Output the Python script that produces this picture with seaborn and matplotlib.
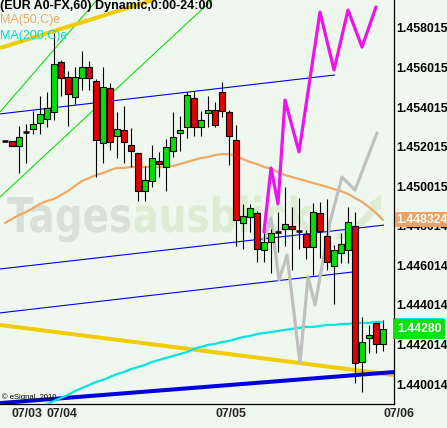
import numpy as np
import pandas as pd
import matplotlib
matplotlib.use("Agg")
import matplotlib.pyplot as plt
import seaborn as sns
from matplotlib.textpath import TextPath
from matplotlib.patches import PathPatch, FancyArrowPatch
from matplotlib.font_manager import FontProperties
from matplotlib.transforms import Affine2D, blended_transform_factory

BG = "#EFF8EF"
sns.set_style("white", {"axes.facecolor": BG, "figure.facecolor": BG})
plt.rcParams["font.family"] = ["Liberation Sans", "DejaVu Sans"]

# ---------------- data (hourly EUR/USD candles) ----------------
opens = [1.45230, 1.45230, 1.45205, 1.45276, 1.45291, 1.45321, 1.45341, 1.45377, 1.45630, 1.45554,
         1.45453, 1.45549, 1.45604, 1.45534, 1.45220, 1.45498, 1.45255, 1.45286, 1.45210, 1.45169,
         1.44977, 1.45028, 1.45129, 1.45099, 1.45180, 1.45271, 1.45301, 1.45448, 1.45301, 1.45372,
         1.45387, 1.45478, 1.45377, 1.45235, 1.44816, 1.44846, 1.44866, 1.44679, 1.44719, 1.44770,
         1.44785, 1.44800, 1.44775, 1.44760, 1.44694, 1.44866, 1.44750, 1.44598, 1.44664, 1.44679,
         1.44800, 1.44113, 1.44234, 1.44310, 1.44204]
highs = [1.45235, 1.45230, 1.45306, 1.45316, 1.45382, 1.45458, 1.45478, 1.45776, 1.45640, 1.45584,
         1.45604, 1.45685, 1.45635, 1.45544, 1.45604, 1.45523, 1.45377, 1.45407, 1.45296, 1.45169,
         1.45104, 1.45210, 1.45175, 1.45240, 1.45377, 1.45357, 1.45478, 1.45483, 1.45382, 1.45458,
         1.45427, 1.45528, 1.45387, 1.45311, 1.44912, 1.44912, 1.44876, 1.44765, 1.44785, 1.44871,
         1.44998, 1.44896, 1.44942, 1.44780, 1.44917, 1.44922, 1.44937, 1.44704, 1.44765, 1.44896,
         1.44871, 1.44340, 1.44300, 1.44310, 1.44325]
lows = [1.45225, 1.45205, 1.45068, 1.45119, 1.45266, 1.45266, 1.45301, 1.45336, 1.45458, 1.45306,
        1.45417, 1.45488, 1.45488, 1.45048, 1.45119, 1.45185, 1.45144, 1.45119, 1.45099, 1.44927,
        1.44927, 1.44998, 1.45048, 1.44977, 1.45149, 1.45180, 1.45245, 1.45255, 1.45255, 1.45301,
        1.45301, 1.45351, 1.45109, 1.44699, 1.44684, 1.44770, 1.44618, 1.44618, 1.44563, 1.44669,
        1.44699, 1.44578, 1.44684, 1.44634, 1.44553, 1.44639, 1.44578, 1.44406, 1.44613, 1.44613,
        1.44007, 1.43961, 1.44158, 1.44158, 1.44168]
closes = [1.45230, 1.45205, 1.45250, 1.45276, 1.45316, 1.45367, 1.45397, 1.45619, 1.45549, 1.45468,
          1.45554, 1.45604, 1.45549, 1.45235, 1.45503, 1.45225, 1.45291, 1.45225, 1.45180, 1.44977,
          1.45033, 1.45144, 1.45114, 1.45200, 1.45250, 1.45286, 1.45463, 1.45301, 1.45336, 1.45387,
          1.45311, 1.45382, 1.45255, 1.44831, 1.44851, 1.44891, 1.44684, 1.44719, 1.44765, 1.44770,
          1.44810, 1.44785, 1.44775, 1.44694, 1.44871, 1.44775, 1.44618, 1.44679, 1.44709, 1.44821,
          1.44108, 1.44214, 1.44249, 1.44204, 1.44280]

ma50 = [1.44816, 1.44836, 1.44856, 1.44871, 1.44891, 1.44912, 1.44927, 1.44937, 1.44957, 1.44977,
        1.45003, 1.45028, 1.45043, 1.45058, 1.45068, 1.45083, 1.45094, 1.45094, 1.45099, 1.45099,
        1.45099, 1.45099, 1.45099, 1.45099, 1.45104, 1.45114, 1.45124, 1.45134, 1.45144, 1.45149,
        1.45159, 1.45164, 1.45164, 1.45154, 1.45139, 1.45124, 1.45114, 1.45099, 1.45089, 1.45073,
        1.45058, 1.45048, 1.45038, 1.45028, 1.45018, 1.45008, 1.44998, 1.44987, 1.44977, 1.44962,
        1.44942, 1.44922, 1.44896, 1.44866, 1.44831]
ma200 = [1.43794, 1.43814, 1.43835, 1.43855, 1.43870, 1.43885, 1.43900, 1.43916, 1.43931, 1.43946,
         1.43966, 1.43981, 1.43996, 1.44012, 1.44022, 1.44037, 1.44052, 1.44062, 1.44077, 1.44087,
         1.44098, 1.44113, 1.44123, 1.44133, 1.44143, 1.44153, 1.44163, 1.44179, 1.44189, 1.44199,
         1.44204, 1.44214, 1.44219, 1.44229, 1.44239, 1.44244, 1.44254, 1.44259, 1.44264, 1.44270,
         1.44275, 1.44280, 1.44285, 1.44290, 1.44290, 1.44295, 1.44300, 1.44300, 1.44305, 1.44305,
         1.44310, 1.44310, 1.44310, 1.44315, 1.44315]
ma50_last_label = 1.448324
ma200_last_label = 1.44283

# projection paths (magenta / gray)
proj_up_x = [37, 38, 39, 40, 42, 45, 47, 49, 51, 53]
proj_up_y = [1.44770, 1.45094, 1.44912, 1.45437, 1.45175, 1.45882, 1.45589, 1.45892, 1.45705, 1.45908]
proj_dn_x = [37.0, 38.0, 39.14, 40.29, 42.14, 43.29, 44.29, 46.43, 48.14, 50.0, 53.14]
proj_dn_y = [1.44730, 1.44841, 1.44527, 1.44654, 1.44108, 1.44543, 1.44401, 1.44821, 1.45048, 1.44982, 1.45271]

# drawn trend lines (two end points each)
yellow_upper_x, yellow_upper_y = [-0.71, 21.14], [1.45700, 1.45943]
yellow_lower_x, yellow_lower_y = [-0.71, 55.57], [1.44300, 1.44047]
blue_thick_x, blue_thick_y = [-0.71, 55.57], [1.43905, 1.44062]
blue_upper_x, blue_upper_y = [-0.71, 47.14], [1.45367, 1.45564]
blue_mid_x, blue_mid_y = [-0.71, 54.14], [1.44583, 1.44805]
blue_low_x, blue_low_y = [-0.71, 49.71], [1.44361, 1.44568]
green_a_x, green_a_y = [-0.71, 13.14], [1.45377, 1.45943]
green_b_x, green_b_y = [-0.71, 29.57], [1.44947, 1.45943]

ytick_vals = [1.440014, 1.442014, 1.444014, 1.446014, 1.448014,
              1.450015, 1.452015, 1.454015, 1.456015, 1.458015]
ytick_labels = ["1.440014", "1.442014", "1.444014", "1.446014", "1.448014",
                "1.450015", "1.452015", "1.454015", "1.456015", "1.458015"]
xtick_pos = [1, 6, 30, 54]
xtick_labels = ["07/03", "07/04", "07/05", "07/06"]

# ---------------- figure ----------------
W, H = 447, 428
fig = plt.figure(figsize=(W / 100, H / 100), dpi=100)
ax = fig.add_axes([0, 24 / H, 394 / W, 404 / H])
ax.set_xlim(-0.714, 55.571)
ax.set_ylim(1.439004, 1.45943)

# watermark
fp = FontProperties(family="DejaVu Sans", weight="bold")
em_x, em_y = 48 * 0.81 / 394, 48 / 404
tx, ty = 7 / 394, 1 - 232 / 404
tp1 = TextPath((0, 0), "Tages", size=1, prop=fp)
tp2 = TextPath((0, 0), "ausblick", size=1, prop=fp)
adv = tp1.get_extents().x1 + 0.06
ax.add_patch(PathPatch(tp1, transform=Affine2D().scale(em_x, em_y).translate(tx, ty) + ax.transAxes,
                       fc="#D9E0D9", ec="none", zorder=0.5))
ax.add_patch(PathPatch(tp2, transform=Affine2D().scale(em_x, em_y).translate(tx + adv * em_x, ty) + ax.transAxes,
                       fc="#DCEDD3", ec="none", zorder=0.5))
ax.add_patch(FancyArrowPatch((333 / 394, 1 - 238 / 404), (382 / 394, 1 - 192 / 404), transform=ax.transAxes,
                             arrowstyle="simple,head_width=10,head_length=10,tail_width=5",
                             connectionstyle="arc3,rad=0.25", color="#DCEDD3", lw=0, zorder=0.5))

# trend lines
for (xs, ys, c, lw) in [(green_a_x, green_a_y, "#00E000", 0.75),
                        (green_b_x, green_b_y, "#00E000", 0.75),
                        (blue_upper_x, blue_upper_y, "#0000E8", 0.8),
                        (blue_mid_x, blue_mid_y, "#0000E8", 0.8),
                        (blue_low_x, blue_low_y, "#0000E8", 0.8),
                        (yellow_upper_x, yellow_upper_y, "#F0CC00", 2.9),
                        (yellow_lower_x, yellow_lower_y, "#F0CC00", 2.9),
                        (blue_thick_x, blue_thick_y, "#0000E0", 2.9)]:
    ax.plot(xs, ys, color=c, lw=lw, solid_capstyle="butt", zorder=2)

idx = np.arange(len(opens))
df = pd.DataFrame({"i": idx, "open": opens, "high": highs, "low": lows, "close": closes,
                   "ma50": ma50, "ma200": ma200})

sns.lineplot(data=df, x="i", y="ma200", color="#00E4E4", lw=1.6, ax=ax, zorder=3)
sns.lineplot(data=df, x="i", y="ma50", color="#F2A862", lw=1.6, ax=ax, zorder=3)

sns.lineplot(x=proj_dn_x, y=proj_dn_y, color="#C0C0C0", lw=2.3, sort=False, estimator=None, ax=ax, zorder=3.5)
sns.lineplot(x=proj_up_x, y=proj_up_y, color="#F010F0", lw=2.3, sort=False, estimator=None, ax=ax, zorder=3.6)

# candles
ax.vlines(df["i"], df["low"], df["high"], color="black", lw=0.8, zorder=4)
o = df["open"].values
c = df["close"].values
up = c > o
dn = c < o
dj = c == o
bw = 0.72
ax.bar(df["i"][up], (c - o)[up], bottom=o[up], width=bw, color="#00E000", edgecolor="black", lw=0.8, zorder=5)
ax.bar(df["i"][dn], (o - c)[dn], bottom=c[dn], width=bw, color="#E00000", edgecolor="black", lw=0.8, zorder=5)
ax.hlines(o[dj], df["i"][dj] - 0.4, df["i"][dj] + 0.4, color="black", lw=1.8, zorder=5)

# axes styling
for s in ["left", "top"]:
    ax.spines[s].set_visible(False)
for s in ["right", "bottom"]:
    ax.spines[s].set_color("black")
    ax.spines[s].set_linewidth(0.9)
ax.yaxis.tick_right()
ax.set_yticks(ytick_vals, ytick_labels)
ax.tick_params(axis="y", length=0, pad=1.5, labelsize=8.8, labelcolor="black")
for t in ax.get_yticklabels():
    t.set_fontweight("bold")
ax.set_xticks(xtick_pos, xtick_labels)
ax.tick_params(axis="x", direction="in", length=3, width=0.8, color="black", pad=3, labelsize=8.9)
for t in ax.get_xticklabels():
    t.set_fontweight("bold")
    t.set_ha("left")
ax.set_xlabel("")
ax.set_ylabel("")

# right price boxes
trans = blended_transform_factory(ax.transAxes, ax.transData)
ax.text(1.006, ma50_last_label, f"{ma50_last_label:.6f}", transform=trans, ha="left", va="center",
        color="white", fontsize=8.8, fontweight="bold", clip_on=False, zorder=10,
        bbox=dict(boxstyle="square,pad=0.15", fc="#F0A060", ec="none"))
ax.text(1.008, ma200_last_label + 0.00012, f"{ma200_last_label:.5f}", transform=trans, ha="left", va="center",
        color="white", fontsize=8.8, fontweight="bold", clip_on=False, zorder=10,
        bbox=dict(boxstyle="square,pad=0.15", fc="#00E8E8", ec="none"))
ax.text(1.008, closes[-1], f"{closes[-1]:.5f}", transform=trans, ha="left", va="center",
        color="white", fontsize=8.8, fontweight="bold", clip_on=False, zorder=11,
        bbox=dict(boxstyle="square,pad=0.3", fc="#10E010", ec="none"))

# legend texts
fig.text(0.0, 1.0, "(EUR A0-FX,60) Dynamic,0:00-24:00", ha="left", va="top",
         fontsize=9, fontweight="bold", color="black")
fig.text(0.0, 1 - 14.5 / H, "MA(50,C)e", ha="left", va="top", fontsize=9, color="#F0A868")
fig.text(0.0, 1 - 29.5 / H, "MA(200,C)e", ha="left", va="top", fontsize=9, color="#00E0E0")
fig.text(2 / W, 1 - 399 / H, "© eSignal, 2010", ha="left", va="baseline", fontsize=5.5, color="black")

fig.savefig("out.png", dpi=100, facecolor=BG)
